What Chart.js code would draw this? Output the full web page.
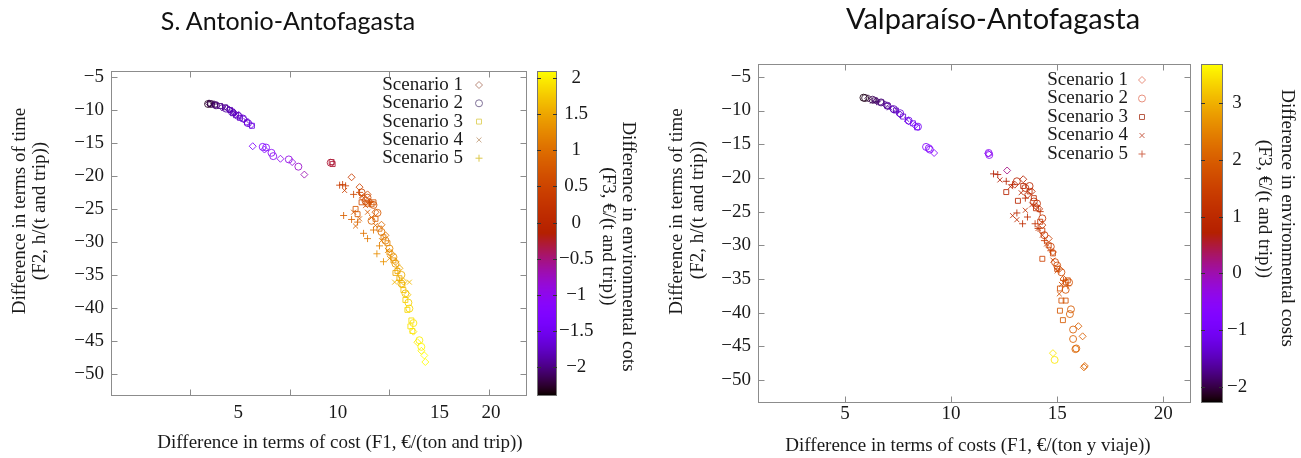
<!DOCTYPE html>
<html>
<head>
<meta charset="utf-8">
<script src="https://cdn.jsdelivr.net/npm/chart.js@4.4.1/dist/chart.umd.min.js"></script>
<style>
    body { margin: 0; background: #fff; width: 1301px; height: 458px; overflow: hidden; position: relative; }
    canvas { position: absolute; top: 0; }
    .ttl { position: absolute; top: 5px; font-family: Lato, sans-serif; font-size: 25px; line-height: 30px; color: #111; white-space: nowrap; transform: translateX(-50%); }
</style>
</head>
<body>
<canvas id="leftChart" style="left:0" width="650" height="458"></canvas>
<canvas id="rightChart" style="left:650px" width="651" height="458"></canvas>
<div class="ttl" style="left:288px">S. Antonio-Antofagasta</div>
<div class="ttl" style="left:993px;font-size:29px;top:3px">Valparaíso-Antofagasta</div>
<script>
// Labels and ticks
const SCENARIOS = ['Scenario 1', 'Scenario 2', 'Scenario 3', 'Scenario 4', 'Scenario 5'];
const MARKERS = ['rectRot', 'circle', 'rect', 'crossRot', 'cross'];
const X_TICKS = [5, 10, 15, 20];
const Y_TICKS = [-5, -10, -15, -20, -25, -30, -35, -40, -45, -50];
const CB_TICKS_SA = [2, 1.5, 1, 0.5, 0, -0.5, -1, -1.5, -2];
const CB_TICKS_VA = [3, 2, 1, 0, -1, -2];

// S. Antonio-Antofagasta: [F1 cost, F2 time, F3 environmental]
const saS1 = [[5.95,-9.0,-2.2],[6.25,-9.25,-2.1],[6.6,-9.6,-1.95],[6.95,-9.95,-1.85],[7.2,-10.4,-1.8],[7.45,-10.8,-1.75],
    [7.7,-11.4,-1.7],[8.05,-12.3,-1.6],
    [8.14,-15.5,-1.3],[8.73,-16.0,-1.2],[9.53,-17.4,-1.0],[10.12,-17.9,-0.9],[10.73,-19.8,-0.7],
    [13.1,-20.2,0.4],[13.5,-21.7,0.5],[13.7,-23.4,0.6],[13.9,-22.8,0.6],[14.0,-23.9,0.65],[14.3,-25.5,0.8],
    [14.6,-27.4,0.95],[14.8,-29.0,1.1],[15.1,-31.8,1.3],[15.3,-33.0,1.4],[15.5,-34.0,1.5],[15.7,-36.0,1.6],
    [15.9,-38.0,1.75],[16.2,-43.6,1.95],[16.4,-45.2,2.0],[16.6,-46.5,2.05],[16.75,-47.2,2.1],[16.8,-48.2,2.1]];
const saS2 = [[5.9,-9.1,-2.3],[6.05,-9.1,-2.2],[6.3,-9.3,-2.05],[6.8,-9.8,-1.9],[7.1,-10.3,-1.8],[7.4,-10.9,-1.75],
    [7.65,-11.3,-1.7],[7.9,-12.0,-1.65],
    [8.64,-15.6,-1.25],[8.81,-15.7,-1.2],[9.08,-16.5,-1.1],[9.17,-17.0,-1.05],[9.95,-17.5,-0.95],[10.43,-18.6,-0.8],
    [12.05,-18.0,-0.3],
    [13.6,-22.5,0.55],[13.8,-23.8,0.62],[13.9,-23.3,0.6],[14.2,-24.4,0.7],[14.4,-25.6,0.8],[14.1,-26.8,0.9],
    [14.6,-28.5,1.05],[14.8,-29.8,1.15],[15.0,-31.0,1.25],[15.2,-32.3,1.35],[15.3,-33.3,1.4],[15.6,-35.0,1.55],
    [15.6,-36.3,1.6],[15.8,-37.8,1.7],[15.95,-39.2,1.8],[16.0,-40.1,1.85],[16.2,-42.3,1.95],[16.5,-44.9,2.0],[16.6,-45.9,2.05]];
const saS3 = [[6.0,-9.05,-2.2],[6.25,-9.2,-2.1],[6.5,-9.4,-2.0],[6.75,-9.6,-1.95],[7.0,-10.0,-1.85],[7.15,-10.5,-1.8],
    [7.3,-10.8,-1.78],[7.5,-11.2,-1.75],[7.85,-11.9,-1.68],[8.1,-12.4,-1.6],
    [12.1,-17.9,-0.3],[12.15,-18.2,-0.3],
    [13.3,-25.0,0.75],[13.4,-25.8,0.8],[13.6,-24.0,0.6],[13.9,-24.2,0.65],[14.1,-24.3,0.7],[14.2,-24.0,0.7],
    [14.3,-26.5,0.85],[14.5,-28.0,1.0],[14.7,-29.3,1.1],[14.9,-30.2,1.2],[15.0,-31.6,1.3],[15.2,-32.8,1.35],
    [15.3,-34.7,1.5],[15.4,-34.4,1.5],[15.5,-35.5,1.55],[15.65,-36.5,1.65],[15.7,-37.3,1.7],[15.8,-38.8,1.8],
    [15.9,-40.3,1.85],[16.1,-41.9,1.9],[16.05,-42.8,1.92],[16.15,-43.5,1.95]];
const saS4 = [[6.1,-9.2,-2.15],[6.7,-9.7,-1.95],[7.3,-10.6,-1.8],[7.8,-11.6,-1.7],
    [12.75,-22.2,0.45],[13.2,-25.5,0.75],[13.3,-27.6,0.9],[13.5,-26.5,0.85],[13.6,-23.0,0.55],[13.8,-24.5,0.7],
    [13.9,-25.5,0.8],[14.1,-26.3,0.85],[14.3,-27.5,0.95],[14.6,-29.8,1.15],[14.9,-31.3,1.25],[15.0,-32.5,1.35],
    [15.4,-33.8,1.45],[15.26,-36.1,1.6],[16.0,-36.1,1.65]];
const saS5 = [[6.2,-9.1,-2.1],[7.1,-10.2,-1.85],
    [12.5,-21.4,0.4],[12.65,-21.3,0.4],[12.8,-21.5,0.45],[13.2,-22.8,0.55],[13.5,-22.5,0.55],[14.0,-24.0,0.65],
    [12.7,-26.0,0.85],[13.1,-26.6,0.9],[13.4,-27.0,0.95],[13.7,-28.7,1.05],[13.9,-29.5,1.1],[14.2,-28.2,1.05],
    [14.5,-30.6,1.2],[14.37,-31.8,1.3],[14.7,-33.0,1.35],[15.5,-35.8,1.6]];

// Valparaíso-Antofagasta
const vaS1 = [[6.1,-8.2,-2.05],[6.5,-8.6,-1.85],[6.9,-9.1,-1.7],[7.25,-9.8,-1.5],[7.6,-10.6,-1.35],[8.0,-11.6,-1.15],
    [8.3,-12.2,-1.05],[9.2,-16.3,-0.6],[11.75,-16.4,-0.5],
    [12.64,-18.9,0.2],[13.4,-20.2,0.8],[13.0,-21.0,0.85],[13.6,-22.5,0.95],[13.8,-22.0,1.0],[14.0,-24.2,1.1],
    [14.15,-24.6,1.15],[14.3,-27.0,1.3],[14.6,-29.0,1.45],[14.8,-31.0,1.55],[15.1,-33.5,1.7],[15.3,-35.0,1.8],
    [16.0,-42.0,2.0],[16.2,-43.5,2.0],[16.26,-48.1,2.1],[16.3,-47.9,2.1],[14.8,-46.0,3.5]];
const vaS2 = [[5.87,-8.1,-2.2],[5.95,-8.15,-2.15],[6.3,-8.4,-1.95],[6.7,-8.8,-1.8],[7.0,-9.3,-1.65],[7.3,-9.8,-1.5],
    [7.6,-10.4,-1.35],[8.0,-11.5,-1.15],[8.44,-12.4,-1.0],
    [8.82,-15.4,-0.7],[8.95,-15.6,-0.7],[9.0,-15.8,-0.7],[11.8,-16.6,-0.5],[11.77,-16.3,-0.5],
    [13.1,-20.5,0.8],[13.5,-21.5,0.9],[13.7,-21.2,0.95],[13.9,-23.5,1.0],[14.05,-23.8,1.1],[14.3,-26.0,1.25],
    [14.4,-28.5,1.35],[14.7,-30.2,1.5],[14.9,-32.5,1.6],[15.0,-33.0,1.65],[15.2,-34.0,1.7],[15.56,-35.5,1.8],
    [15.4,-36.6,1.85],[15.65,-39.5,1.95],[15.6,-40.2,2.0],[15.75,-42.5,2.0],[15.75,-43.9,2.05],[15.86,-45.4,2.1],
    [15.9,-45.3,2.1],[14.88,-47.0,3.5]];
const vaS3 = [[6.4,-8.5,-1.9],[6.7,-8.8,-1.8],[7.0,-9.3,-1.65],[7.4,-10.0,-1.45],[7.74,-10.9,-1.3],[8.2,-11.9,-1.1],[8.4,-12.5,-1.0],
    [12.6,-22.1,0.8],[13.15,-23.4,0.9],[13.4,-21.2,0.9],[13.7,-22.0,1.0],[13.9,-23.0,1.05],[14.0,-24.5,1.1],
    [14.2,-26.5,1.25],[14.3,-27.8,1.35],[14.6,-30.0,1.45],[14.8,-31.2,1.55],[14.3,-32.0,1.5],[15.0,-33.5,1.6],
    [15.5,-35.2,1.75],[15.4,-35.5,1.7],[15.13,-36.4,1.75],[15.2,-38.2,1.8],[15.4,-38.2,1.85],[15.13,-39.7,1.9],[15.27,-41.1,1.95]];
const vaS4 = [[6.3,-8.6,-1.95],[7.1,-9.6,-1.6],[7.9,-11.3,-1.2],
    [12.3,-20.3,0.7],[12.8,-21.3,0.8],[13.3,-22.2,0.9],[13.8,-24.0,1.05],[12.9,-25.6,1.0],[13.1,-26.2,1.05],
    [13.5,-24.8,1.1],[14.1,-27.5,1.25],[14.3,-28.5,1.35],[14.5,-29.8,1.45],[14.8,-32.2,1.55],[15.0,-33.8,1.65],
    [15.2,-35.8,1.75],[15.1,-37.2,1.8]];
const vaS5 = [[6.5,-8.7,-1.85],[7.45,-10.2,-1.45],
    [12.0,-19.4,0.7],[12.2,-19.5,0.7],[12.6,-20.5,0.75],[12.9,-21.0,0.85],[13.5,-23.0,0.95],[14.2,-25.0,1.15],
    [13.1,-25.2,1.0],[13.37,-26.8,1.05],[13.6,-25.8,1.05],[13.96,-26.8,1.15],[14.1,-27.5,1.2],[14.4,-29.3,1.35],
    [14.7,-30.8,1.45],[15.3,-35.2,1.7],[15.5,-36.0,1.75]];

const FONT = 'Liberation Serif';
const TXT = '#1a1a1a';
const minus = v => String(v).replace('-', '\u2212');

// gnuplot default palette (rgbformulae 7,5,15)
function palette(z, lo, hi, a = 1) {
    const f = Math.min(1, Math.max(0, (z - lo) / (hi - lo)));
    const r = Math.sqrt(f), g = f * f * f, b = Math.max(0, Math.sin(2 * Math.PI * f));
    return `rgba(${Math.round(r * 255)},${Math.round(g * 255)},${Math.round(b * 255)},${a})`;
}

// Frame, inward ticks, colour box, legend and axis titles
const gnuFrame = {
    id: 'gnuFrame',
    afterDraw(chart, args, o) {
        const { ctx, chartArea: a, scales } = chart;
        const L = Math.round(a.left) + 0.5, R = Math.round(a.right) + 0.5;
        const T = Math.round(a.top) + 0.5, B = Math.round(a.bottom) + 0.5;
        ctx.save();
        ctx.strokeStyle = '#8c8c8c';
        ctx.lineWidth = 1;
        ctx.strokeRect(L, T, R - L, B - T);
        ctx.beginPath();
        scales.x.ticks.forEach(t => {
            const p = Math.round(scales.x.getPixelForValue(t.value)) + 0.5;
            ctx.moveTo(p, B); ctx.lineTo(p, B - 6);
            ctx.moveTo(p, T); ctx.lineTo(p, T + 6);
        });
        scales.y.ticks.forEach(t => {
            const p = Math.round(scales.y.getPixelForValue(t.value)) + 0.5;
            ctx.moveTo(L, p); ctx.lineTo(L + 6, p);
            ctx.moveTo(R, p); ctx.lineTo(R - 6, p);
        });
        ctx.stroke();

        // colour box
        const cb = scales.cb;
        const x0 = Math.round(cb.left + o.barOffset);
        for (let py = Math.round(cb.top); py < Math.round(cb.bottom); py++) {
            ctx.fillStyle = palette(cb.getValueForPixel(py + 0.5), cb.min, cb.max);
            ctx.fillRect(x0, py, o.barWidth, 1);
        }
        ctx.strokeStyle = '#777';
        ctx.strokeRect(x0 + 0.5, T, o.barWidth - 1, B - T);
        ctx.strokeStyle = '#333';
        ctx.beginPath();
        cb.ticks.forEach(t => {
            const p = Math.round(cb.getPixelForValue(t.value)) + 0.5;
            ctx.moveTo(x0, p); ctx.lineTo(x0 + 4, p);
            ctx.moveTo(x0 + o.barWidth, p); ctx.lineTo(x0 + o.barWidth - 4, p);
        });
        ctx.stroke();

        ctx.fillStyle = TXT;
        ctx.font = `19px "${FONT}"`;
        ctx.textBaseline = 'middle';

        // shifted x labels (left panel)
        if (o.xLabelShift) {
            ctx.textAlign = 'center';
            scales.x.ticks.forEach((t, i) => {
                ctx.fillText(String(t.value), scales.x.getPixelForValue(t.value) + o.xLabelShift[i], o.xLabelY);
            });
        }

        // legend
        const lg = o.legend;
        SCENARIOS.forEach((name, i) => {
            const y = a.top + lg.y0 + i * lg.dy;
            ctx.fillStyle = TXT;
            ctx.textAlign = 'right';
            ctx.fillText(name, a.right + lg.textDx, y);
            ctx.strokeStyle = lg.colors[i];
            ctx.fillStyle = 'rgba(0,0,0,0)';
            ctx.lineWidth = 1;
            Chart.helpers.drawPoint(ctx, { pointStyle: MARKERS[i], radius: 3.5, rotation: 0, borderWidth: 1 }, a.right + lg.markDx, y);
        });

        // axis titles
        ctx.fillStyle = TXT;
        ctx.textAlign = 'center';
        o.titles.forEach(t => {
            ctx.save();
            ctx.translate(t.x, t.y);
            ctx.rotate(t.rot * Math.PI / 180);
            ctx.fillText(t.text, 0, 0);
            ctx.restore();
        });
        ctx.restore();
    }
};

function buildChart(id, o) {
    const ctx = document.getElementById(id).getContext('2d');
    const tickFont = { family: FONT, size: 19 };
    return new Chart(ctx, {
        type: 'scatter',
        data: {
            datasets: o.series.map((pts, i) => ({
                label: SCENARIOS[i],
                data: pts.map(([x, y, z]) => ({ x, y, z })),
                pointStyle: MARKERS[i],
                pointRadius: 3.5,
                pointHoverRadius: 3.5,
                pointBorderWidth: 1,
                pointBackgroundColor: 'rgba(0,0,0,0)',
                pointBorderColor: c => c.raw ? palette(c.raw.z, o.cbMin, o.cbMax, 0.85) : '#000'
            }))
        },
        options: {
            responsive: false,
            animation: false,
            events: [],
            layout: { padding: { top: o.top, left: 0, right: 0, bottom: 0 } },
            plugins: {
                legend: { display: false },
                tooltip: { enabled: false },
                gnuFrame: o.frame
            },
            scales: {
                x: {
                    type: 'linear', position: 'bottom', min: o.xMin, max: o.xMax,
                    afterBuildTicks: s => { s.ticks = X_TICKS.map(v => ({ value: v })); },
                    afterFit: s => { s.height = o.xHeight; },
                    grid: { display: false, drawTicks: false },
                    border: { display: false },
                    ticks: { display: !o.frame.xLabelShift, padding: o.xPad, font: tickFont, color: TXT, maxRotation: 0 }
                },
                y: {
                    type: 'linear', position: 'left', min: o.yMin, max: o.yMax,
                    afterBuildTicks: s => { s.ticks = Y_TICKS.map(v => ({ value: v })); },
                    afterFit: s => { s.width = o.yWidth; },
                    grid: { display: false, drawTicks: false },
                    border: { display: false },
                    ticks: { padding: 7, font: tickFont, color: TXT, callback: minus }
                },
                cb: {
                    type: 'linear', axis: 'y', position: 'right', min: o.cbMin, max: o.cbMax,
                    afterBuildTicks: s => { s.ticks = o.cbTicks.map(v => ({ value: v })); },
                    afterFit: s => { s.width = o.cbWidth; },
                    grid: { display: false, drawTicks: false },
                    border: { display: false },
                    ticks: { padding: o.cbPad, crossAlign: 'center', font: tickFont, color: TXT, callback: minus }
                }
            }
        },
        plugins: [gnuFrame]
    });
}

buildChart('leftChart', {
    series: [saS1, saS2, saS3, saS4, saS5],
    top: 71, xHeight: 63, yWidth: 111, cbWidth: 124, xPad: 2, cbPad: 33,
    xMin: 1.03, xMax: 21.85, yMin: -53.2, yMax: -4.1, cbMin: -2.39, cbMax: 2.1,
    cbTicks: CB_TICKS_SA,
    frame: {
        barOffset: 11, barWidth: 20,
        xLabelShift: [48, 48, 50, 2], xLabelY: 412.7,
        legend: { textDx: -63, markDx: -47, y0: 14, dy: 18.3,
            colors: ['#b98a7a', '#7e6f96', '#e2d56a', '#c9a98a', '#dcc84a'] },
        titles: [
            { text: 'Difference in terms of cost (F1, €/(ton and trip))', x: 340, y: 443, rot: 0 },
            { text: 'Difference in terms of time', x: 20.5, y: 211, rot: -90 },
            { text: '(F2, h/(t and trip))', x: 40, y: 211, rot: -90 },
            { text: 'Difference in environmental cots', x: 627.5, y: 246.5, rot: 90 },
            { text: '(F3, €/(t and trip))', x: 608, y: 236.5, rot: 90 }
        ]
    }
});

buildChart('rightChart', {
    series: [vaS1, vaS2, vaS3, vaS4, vaS5],
    top: 64, xHeight: 56.3, yWidth: 108, cbWidth: 111, xPad: 1, cbPad: 37,
    xMin: 0.9, xMax: 21.26, yMin: -53.2, yMax: -3.1, cbMin: -2.26, cbMax: 3.69,
    cbTicks: CB_TICKS_VA,
    frame: {
        barOffset: 11, barWidth: 22,
        legend: { textDx: -62, markDx: -48, y0: 16, dy: 18.5,
            colors: ['#e8907e', '#e8907e', '#b85a44', '#c8604a', '#d06a50'] },
        titles: [
            { text: 'Difference in terms of costs (F1, €/(ton y viaje))', x: 318, y: 446, rot: 0 },
            { text: 'Difference in terms of time', x: 27, y: 211.5, rot: -90 },
            { text: '(F2, h/(t and trip))', x: 48, y: 210, rot: -90 },
            { text: 'Difference in environmental costs', x: 636.7, y: 218, rot: 90 },
            { text: '(F3, €/(t and trip))', x: 613.5, y: 209, rot: 90 }
        ]
    }
});
</script>
</body>
</html>
